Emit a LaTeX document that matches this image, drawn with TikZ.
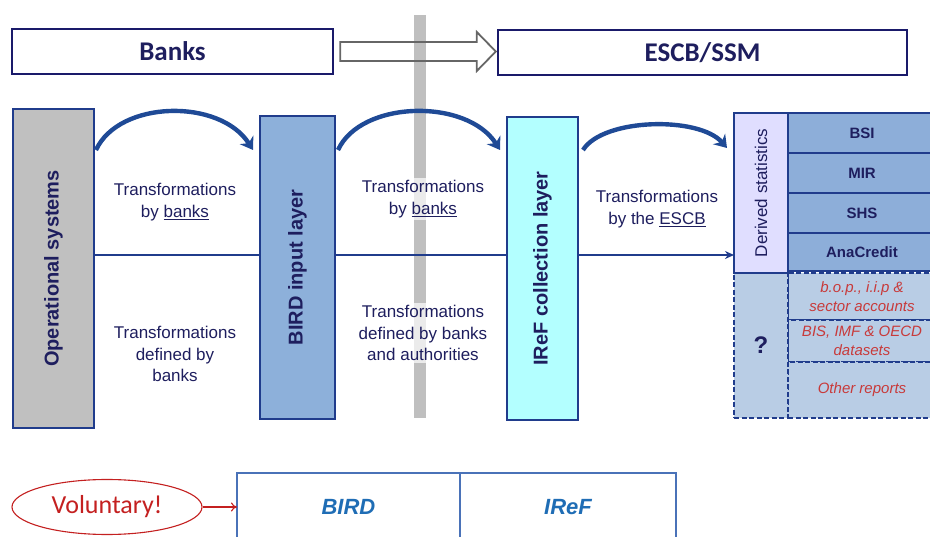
\documentclass[tikz,border=0pt]{standalone}
\usepackage{fontspec}
\setmainfont{Liberation Sans}
\newfontfamily\calibfont{Carlito}
\usepackage{graphicx}
\usepackage{xcolor}
\usetikzlibrary{arrows.meta, positioning, calc, shapes.geometric}
\definecolor{edgeblue}{HTML}{203C8C}
\definecolor{headnavy}{HTML}{1A1A6A}
\definecolor{inknavy}{HTML}{1E1E5E}
\definecolor{hopblue}{HTML}{1F4A96}
\definecolor{barbg}{HTML}{BFBFBF}
\definecolor{opsgray}{HTML}{C0C0C0}
\definecolor{birdblue}{HTML}{8DB0DA}
\definecolor{irefcyan}{HTML}{B3FFFF}
\definecolor{derivedlilac}{HTML}{E0DEFF}
\definecolor{statblue}{HTML}{8DAED9}
\definecolor{otherblue}{HTML}{B9CDE5}
\definecolor{reddish}{HTML}{C83A3A}
\definecolor{volred}{HTML}{C42020}
\definecolor{frameblue}{HTML}{4A72B8}
\definecolor{tagblue}{HTML}{1F6DB5}
\tikzset{%
  layer/.style={draw=edgeblue, line width=1.8pt, inner sep=0pt, outer sep=0pt,
    text=inknavy, font=\fontsize{20}{24}\selectfont\bfseries},
  headbox/.style={draw=headnavy, line width=2.4pt, fill=white, inner sep=0pt,
    text=inknavy, font=\calibfont\fontsize{27}{30}\selectfont\bfseries},
  hollow/.style={draw=gray!80!black, line width=1.8pt},
  trans/.style={align=center, text=inknavy, inner sep=2pt,
    font=\fontsize{17}{21.5}\selectfont},
  stat/.style={layer, fill=statblue, minimum width=148pt, minimum height=40pt,
    font=\fontsize{15}{18}\selectfont\bfseries},
  other/.style={layer, dash pattern=on 5pt off 2.5pt, fill=otherblue,
    minimum width=148pt, align=center, text=reddish,
    font=\fontsize{15}{18.5}\selectfont\itshape},
  flow/.style={draw=edgeblue, line width=2.2pt},
  hop/.style={draw=hopblue, line width=4.4pt, -{Stealth[length=12pt,width=16pt]}},
  vol/.style={ellipse, draw=volred, line width=1.1pt, fill=white, text=volred,
    minimum width=190pt, minimum height=55pt, font=\calibfont\fontsize{26}{28}\selectfont},
  tag/.style={draw=frameblue, line width=1.3pt, minimum height=68pt, inner sep=0pt,
    outer sep=0pt, text=tagblue, font=\fontsize{22}{24}\selectfont\bfseries\itshape}
}

\begin{document}
\begin{tikzpicture}[x=1pt, y=-1pt]
  \useasboundingbox (0,0) rectangle (930,537);
  \clip (0,0) rectangle (930,537);
  \fill[barbg] (414,15) rectangle (426,418);

  % who does what
  \node[headbox, minimum width=321pt, minimum height=45pt] (banks) at (172.5,51.5) {Banks};
  \node[headbox, minimum width=409pt, minimum height=45pt] (escb) at (702.5,52.5) {ESCB/SSM};
  \draw[hollow] ($(banks.east)+(6,-9.5)$) -- ($(escb.west |- banks.east)+(-20,-9.5)$) -- ++(0,-10)
    -- ($(escb.west |- banks.east)+(-1,0)$) -- ($(escb.west |- banks.east)+(-20,19.5)$) -- ++(0,-10)
    -- ($(banks.east)+(6,9.5)$) -- cycle;

  % layers
  \coordinate (lvl) at (0,255);
  \node[layer, fill=opsgray, minimum width=81pt, minimum height=319pt] (ops) at (53.5,268.5)
    {\rotatebox{90}{Operational systems}};
  \node[layer, fill=birdblue, minimum width=75pt, minimum height=303pt] (bird) at (297.5,267.5)
    {\rotatebox{90}{BIRD input layer}};
  \node[layer, fill=irefcyan, minimum width=71pt, minimum height=303pt] (iref) at (542.5,268.5)
    {\rotatebox{90}{IReF collection layer}};

  % outputs
  \node[other, minimum height=47pt] (bop) at (862,296.5) {b.o.p., i.i.p \&\\sector accounts};
  \node[other, minimum height=42pt, below=0pt of bop] (bis) {BIS, IMF \& OECD\\datasets};
  \node[other, minimum height=56pt, below=0pt of bis] (rest) {Other reports};
  \node[layer, dash pattern=on 5pt off 2.5pt, fill=otherblue, minimum width=54pt,
    anchor=north east, minimum height=145pt, font=\fontsize{24}{26}\selectfont\bfseries]
    (unknown) at (bop.north west) {?};
  \node[stat] (bsi) at (862,133) {BSI};
  \node[stat, below=0pt of bsi] (mir) {MIR};
  \node[stat, below=0pt of mir] (shs) {SHS};
  \node[stat, minimum height=38pt, below=0pt of shs] (ana) {AnaCredit};
  \node[layer, fill=derivedlilac, minimum width=54pt, minimum height=160pt, anchor=north east,
    font=\fontsize{17}{20}\selectfont] (derived) at (bsi.north west) {\rotatebox{90}{Derived statistics}};

  \draw[flow] (ops.east |- lvl) -- (bird.west |- lvl);
  \draw[flow] (bird.east |- lvl) -- (iref.west |- lvl);
  \draw[flow, -{Stealth[length=9pt,width=8pt]}] (iref.east |- lvl) -- (derived.west |- lvl);

  \node[trans] (t1) at (175,202) {Transformations\\by \underline{banks}};
  \node[trans] (t2) at (175,354) {Transformations\\defined by\\banks};
  \node[trans, fill=white, fill opacity=0.7, text opacity=1] (t3) at (423,199)
    {Transformations\\by \underline{banks}};
  \node[trans, fill=white, fill opacity=0.7, text opacity=1] (t4) at (423,333)
    {Transformations\\defined by banks\\and authorities};
  \node[trans] (t5) at (657,209) {Transformations\\by the \underline{ESCB}};

  \draw[hop] ($(ops.north east)+(2,41)$) .. controls +(23,-50) and +(-33,-52) .. ($(bird.north west)+(-7,34)$);
  \draw[hop] ($(bird.north east)+(3,34)$) .. controls +(23,-50) and +(-33,-52) .. ($(iref.north west)+(-7,33)$);
  \draw[hop] ($(iref.north east)+(5,33)$) .. controls +(20,-32) and +(-28,-32) .. ($(derived.north west)+(-7,35)$);

  % legend
  \node[vol] (volnote) at (107,507) {Voluntary!};
  \node[tag, minimum width=223pt] (birdtag) at (348.5,507) {BIRD};
  \node[tag, minimum width=216pt, right=0pt of birdtag] (ireftag) {IReF};
  \draw[volred, line width=1.1pt, -{To[length=6pt,width=9pt]}] (volnote) -- (birdtag);
\end{tikzpicture}
\end{document}
